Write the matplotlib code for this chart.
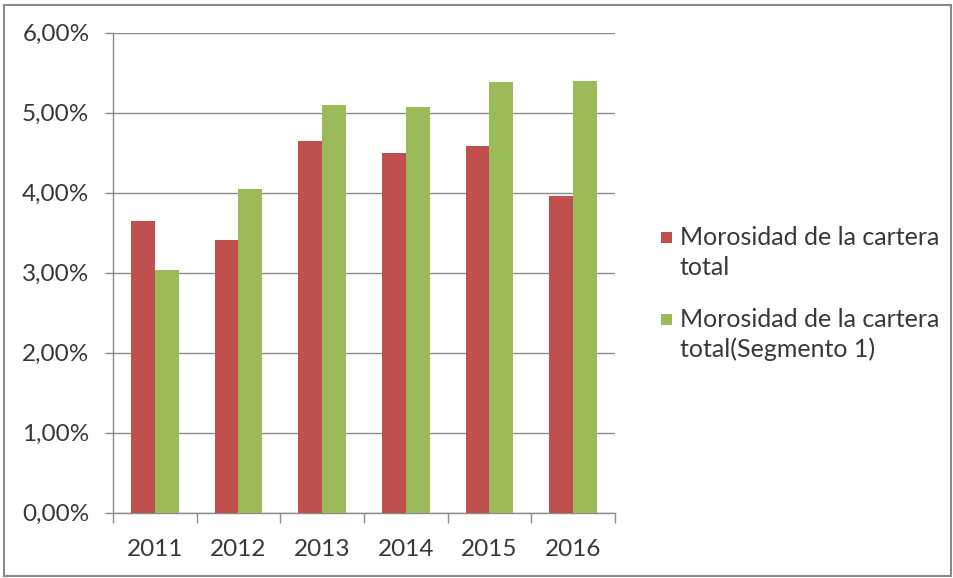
import matplotlib
matplotlib.use("Agg")
import matplotlib.pyplot as plt
from matplotlib.patches import Rectangle
from matplotlib.ticker import FuncFormatter, FixedLocator
import numpy as np

plt.rcParams['font.family'] = ['Lato', 'DejaVu Sans']

years = ["2011", "2012", "2013", "2014", "2015", "2016"]
total = [3.64, 3.41, 4.65, 4.50, 4.58, 3.96]
segmento1 = [3.03, 4.04, 5.10, 5.07, 5.38, 5.40]
labels = ["Morosidad de la cartera\ntotal", "Morosidad de la cartera\ntotal(Segmento 1)"]

RED = "#C0504D"
GREEN = "#9BBB59"
GRID = "#8C8C8C"
TEXT = "#383838"

W, H = 954, 578
fig = plt.figure(figsize=(W / 100, H / 100), dpi=100)
ax = fig.add_axes([113 / W, 1 - 512.5 / H, (615 - 113) / W, (512.5 - 32.7) / H])

x = np.arange(len(years))
bw = 0.285
ax.bar(x - bw / 2, total, width=bw, color=RED, zorder=3)
ax.bar(x + bw / 2, segmento1, width=bw, color=GREEN, zorder=3)

ax.set_xlim(-0.5, len(years) - 0.5)
ax.set_ylim(0, 6)
ax.set_yticks(np.arange(0, 7, 1))
ax.yaxis.set_major_formatter(FuncFormatter(lambda v, p: f"{v:.2f}".replace(".", ",") + "%"))
ax.grid(axis="y", color=GRID, linewidth=1.0, zorder=0)

ax.set_xticks(x)
ax.set_xticklabels(years)
ax.xaxis.set_minor_locator(FixedLocator(np.arange(-0.5, len(years), 1)))
ax.tick_params(axis="x", which="major", length=0, pad=19, labelsize=17.5, labelcolor=TEXT)
ax.tick_params(axis="x", which="minor", length=7, width=1.0, color=GRID, direction="out")
ax.tick_params(axis="y", length=6, width=1.0, color=GRID, pad=11, labelsize=17.5, labelcolor=TEXT)

for s in ["top", "right"]:
    ax.spines[s].set_visible(False)
for s in ["left", "bottom"]:
    ax.spines[s].set_color(GRID)
    ax.spines[s].set_linewidth(1.0)

# legend: colour square beside the first line of each two-line label
for (label, color, ytop) in [(labels[0], RED, 226), (labels[1], GREEN, 308)]:
    fig.text(680 / W, 1 - ytop / H, label, ha="left", va="top", fontsize=18,
             color=TEXT, linespacing=1.35)
    fig.patches.append(Rectangle((661 / W, 1 - (ytop + 17) / H), 11 / W, 11 / H,
                                 transform=fig.transFigure, facecolor=color,
                                 edgecolor="none"))

fig.patches.append(Rectangle((4.5 / W, 2.5 / H), (951.5 - 4.5) / W, (573.5 - 2.5) / H,
                             transform=fig.transFigure, fill=False,
                             edgecolor="#8A8A8A", linewidth=1.5))

fig.savefig("out.png", dpi=100)
